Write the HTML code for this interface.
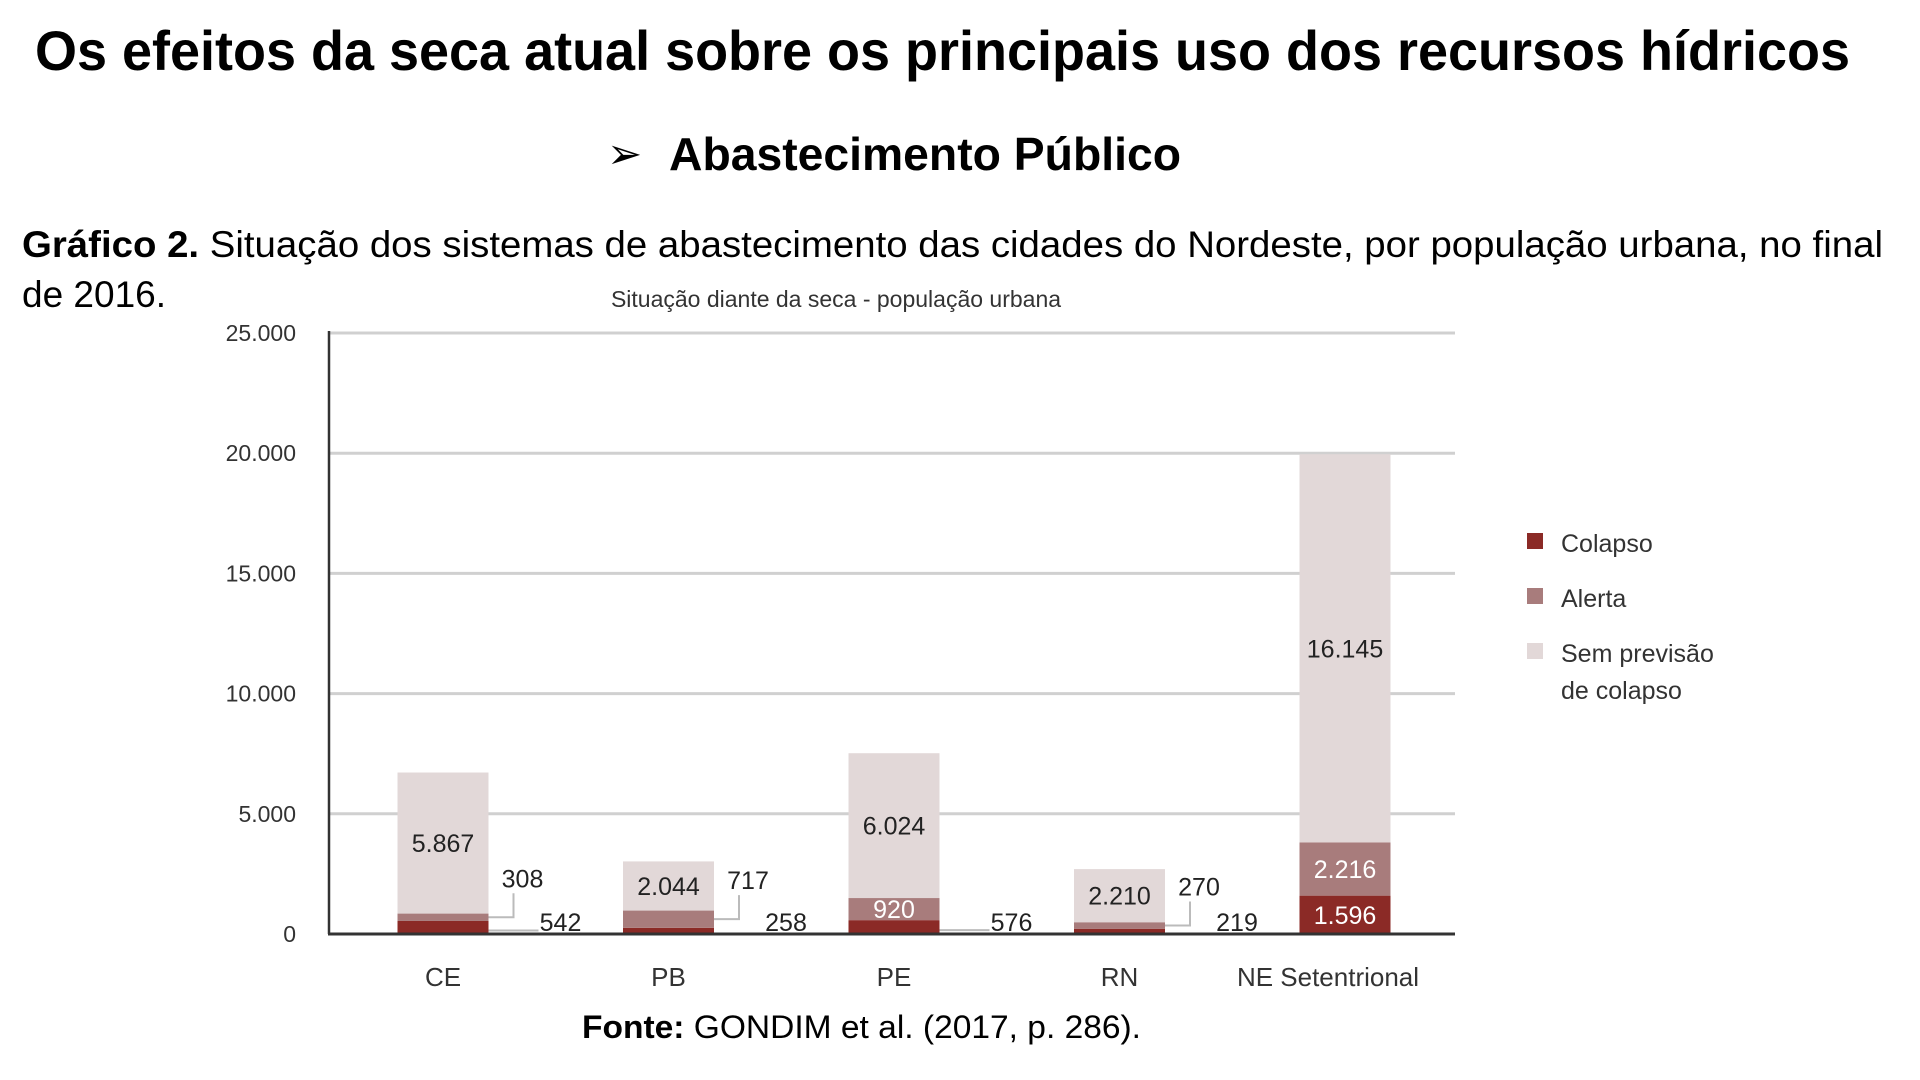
<!DOCTYPE html>
<html><head><meta charset="utf-8"><style>
html,body{margin:0;padding:0;background:#fff;width:1920px;height:1080px;overflow:hidden}
svg{display:block;font-family:"Liberation Sans",sans-serif}
</style></head><body>
<svg id="c" width="1920" height="1080" viewBox="0 0 1920 1080">
<text x="35" y="70" font-size="56" font-weight="bold" textLength="1815" lengthAdjust="spacingAndGlyphs">Os efeitos da seca atual sobre os principais uso dos recursos hídricos</text>
<text x="607" y="168" font-size="42">➢</text>
<text x="669" y="170" font-size="46" font-weight="bold" textLength="512" lengthAdjust="spacingAndGlyphs">Abastecimento Público</text>
<text x="22" y="257" font-size="37" textLength="1861" lengthAdjust="spacingAndGlyphs"><tspan font-weight="bold">Gráfico 2.</tspan> Situação dos sistemas de abastecimento das cidades do Nordeste, por população urbana, no final</text>
<text x="22" y="307" font-size="37">de 2016.</text>
<text x="836" y="307" font-size="23" text-anchor="middle" fill="#333">Situação diante da seca - população urbana</text>
<g id="grid"></g><g id="bars"></g><g id="labels"></g>
<g>
<rect x="1527" y="533" width="16" height="16" fill="#8b2a26"/>
<text x="1561" y="552" font-size="25" fill="#333">Colapso</text>
<rect x="1527" y="588" width="16" height="16" fill="#a87c7c"/>
<text x="1561" y="607" font-size="25" fill="#333">Alerta</text>
<rect x="1527" y="643" width="16" height="16" fill="#e2d8d8"/>
<text x="1561" y="662" font-size="25" fill="#333">Sem previsão</text>
<text x="1561" y="699" font-size="25" fill="#333">de colapso</text>
</g>
<text x="582" y="1038" font-size="32" textLength="559" lengthAdjust="spacingAndGlyphs"><tspan font-weight="bold">Fonte:</tspan> GONDIM et al. (2017, p. 286).</text>
</svg>
<script>
const categories = ["CE","PB","PE","RN","NE Setentrional"];
const colapso = [542,258,576,219,1596];
const alerta = [308,717,920,270,2216];
const sem = [5867,2044,6024,2210,16145];
const yTicks = [0,5000,10000,15000,20000,25000];
const yTickLabels = ["0","5.000","10.000","15.000","20.000","25.000"];
const colapsoLabels = ["542","258","576","219","1.596"];
const alertaLabels = ["308","717","920","270","2.216"];
const semLabels = ["5.867","2.044","6.024","2.210","16.145"];

const NS="http://www.w3.org/2000/svg";
const X0=329,X1=1455,Y0=934,Y1=333,YMAX=25000;
const y=v=>Y0-(v/YMAX)*(Y0-Y1);
const band=225.5,bw=91;
const xc=i=>443+i*band;
function mk(tag,attrs,parent,txt){const e=document.createElementNS(NS,tag);for(const k in attrs)e.setAttribute(k,attrs[k]);if(txt!==undefined)e.textContent=txt;parent.appendChild(e);return e;}
const grid=document.getElementById('grid'),bars=document.getElementById('bars'),labels=document.getElementById('labels');
yTicks.forEach((t,i)=>{
  if(t>0){const l=mk('line',{x1:X0,x2:X1,y1:y(t),y2:y(t),stroke:'#d0d0d0','stroke-width':3},grid);
  
  }
  const tx=mk('text',{x:296,y:y(t)+8,'font-size':23,'text-anchor':'end',fill:'#333'},grid,yTickLabels[i]);
  
  
});
const ax=mk('line',{x1:X0,x2:X0,y1:Y1-2,y2:Y0,stroke:'#333','stroke-width':2.5},grid);


categories.forEach((c,i)=>{
  const x=xc(i)-bw/2;
  const segs=[[0,colapso[i],'#8b2a26','bar-colapso'],[colapso[i],colapso[i]+alerta[i],'#a87c7c','bar-alerta'],[colapso[i]+alerta[i],colapso[i]+alerta[i]+sem[i],'#e2d8d8','bar-sem-previsao']];
  segs.forEach(s=>{
    const r=mk('rect',{x:x,y:y(s[1]),width:bw,height:y(s[0])-y(s[1]),fill:s[2]},bars);
    
    
  });
  const cl=mk('text',{x:xc(i)+(i===4?-17:0),y:986,'font-size':26,'text-anchor':'middle',fill:'#333'},labels,c);
  
  
  const sm=mk('text',{x:xc(i),y:y(colapso[i]+alerta[i]+sem[i]/2)+9,'font-size':25,'text-anchor':'middle',fill:'#222'},labels,semLabels[i]);
  
  
  const right=xc(i)+bw/2;
  const big = alerta[i]>=800;
  if(big){
    const a=mk('text',{x:xc(i),y:y(colapso[i]+alerta[i]/2)+9,'font-size':25,'text-anchor':'middle',fill:'#fff'},labels,alertaLabels[i]);
    
    
  } else {
    const ym=y(colapso[i]+alerta[i]/2);
    const p=mk('polyline',{points:`${right},${ym} ${right+25},${ym} ${right+25},${ym-24}`,fill:'none',stroke:'#bbb','stroke-width':2},labels);
    
    
    const a=mk('text',{x:right+34,y:ym-30,'font-size':25,'text-anchor':'middle',fill:'#222'},labels,alertaLabels[i]);
    
    
  }
  if(colapso[i]>=1000){
    const b=mk('text',{x:xc(i),y:y(colapso[i]/2)+9,'font-size':25,'text-anchor':'middle',fill:'#fff'},labels,colapsoLabels[i]);
    
    
  } else {
    const yc=y(colapso[i]/2)+3;
    const p=mk('line',{x1:right,x2:right+50,y1:yc,y2:yc,stroke:'#bbb','stroke-width':2},labels);
    
    
    const b=mk('text',{x:right+72,y:y(0)-3,'font-size':25,'text-anchor':'middle',fill:'#222'},labels,colapsoLabels[i]);
    
    
  }
});
const xa=mk('line',{x1:X0-1,x2:X1,y1:Y0,y2:Y0,stroke:'#333','stroke-width':3},labels);


</script>
</body></html>
